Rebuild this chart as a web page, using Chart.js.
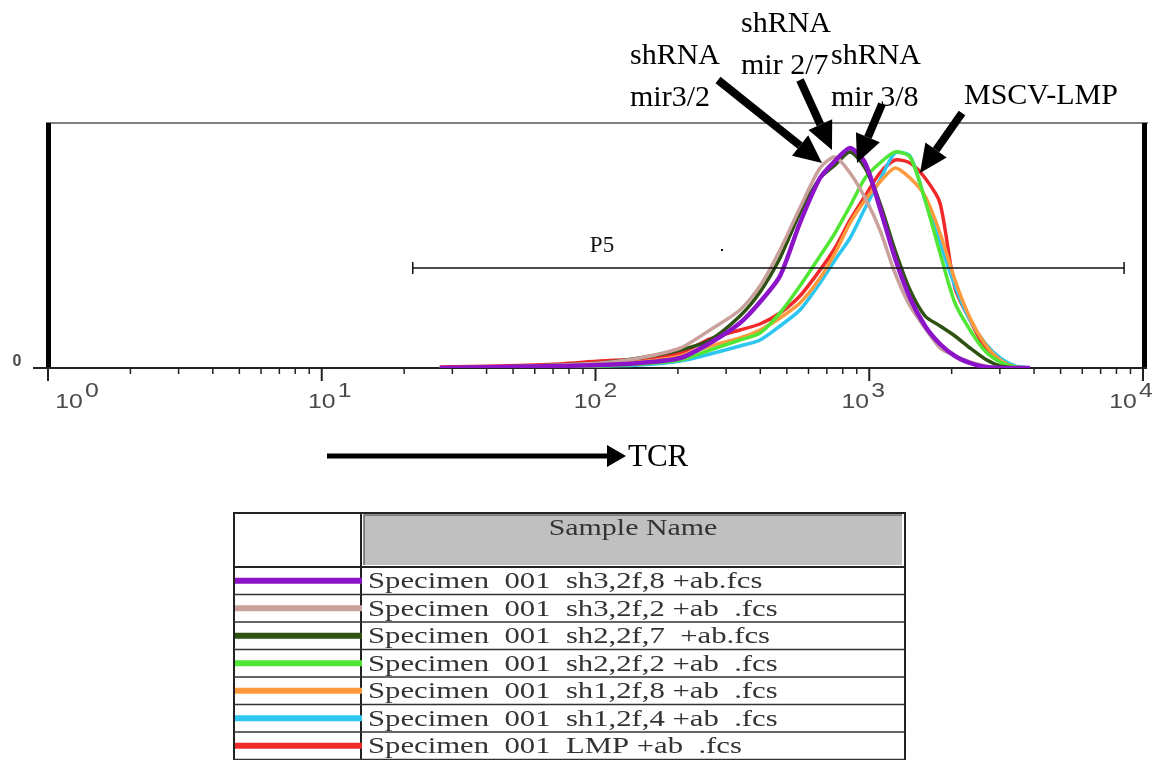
<!DOCTYPE html>
<html>
<head>
<meta charset="utf-8">
<script src="https://cdn.jsdelivr.net/npm/chart.js@4.4.1/dist/chart.umd.min.js"></script>
<style>
  html, body { margin: 0; padding: 0; background: #fff; }
  canvas { display: block; }
</style>
</head>
<body>
<canvas id="histo" width="1152" height="760"></canvas>
<script>
// TCR fluorescence (log scale) and event counts per sample
const intensity = [27, 45, 74, 104, 145, 204, 262, 337, 399, 472, 558, 661, 750, 851, 966, 1094, 1242, 1409, 1599, 1813, 2056, 2334, 2649, 3006, 3407, 3865];

const sh3f8 = [0, 1, 2, 3, 5, 10, 25, 45, 66, 92, 145, 190, 207, 220, 205, 160, 110, 70, 42, 24, 12, 5, 1, 0, 0, 0];
const sh3f2 = [0, 1, 3, 5, 10, 20, 38, 58, 82, 118, 160, 200, 211, 195, 170, 138, 95, 62, 40, 20, 12, 6, 2, 0, 0, 0];
const sh2f7 = [0, 1, 3, 5, 10, 18, 28, 52, 76, 110, 155, 190, 203, 216, 200, 165, 118, 78, 52, 42, 32, 20, 9, 2, 0, 0];
const sh2f2 = [0, 0, 1, 2, 4, 8, 18, 28, 35, 55, 82, 112, 135, 162, 190, 205, 216, 211, 168, 115, 65, 38, 17, 6, 1, 0];
const sh1f8 = [0, 1, 2, 4, 6, 12, 22, 30, 38, 50, 65, 90, 115, 145, 168, 186, 200, 190, 172, 135, 88, 50, 24, 8, 1, 0];
const sh1f4 = [0, 0, 1, 2, 3, 7, 14, 22, 28, 42, 58, 85, 108, 130, 160, 188, 215, 212, 168, 125, 82, 48, 25, 10, 2, 0];
const lmp   = [1, 2, 4, 7, 9, 15, 29, 38, 44, 55, 72, 98, 120, 148, 172, 195, 208, 205, 190, 165, 80, 48, 20, 8, 1, 0];

const sampleNames = [
  'Specimen  001  sh3,2f,8 +ab.fcs',
  'Specimen  001  sh3,2f,2 +ab  .fcs',
  'Specimen  001  sh2,2f,7  +ab.fcs',
  'Specimen  001  sh2,2f,2 +ab  .fcs',
  'Specimen  001  sh1,2f,8 +ab  .fcs',
  'Specimen  001  sh1,2f,4 +ab  .fcs',
  'Specimen  001  LMP +ab  .fcs'
];
const lineColors = ['#8c14c8', '#c9a09c', '#2e5212', '#52e634', '#ff9a3c', '#2cc6f0', '#f02a2a'];
const decades = [1, 10, 100, 1000, 10000];
const gateP5 = [21.5, 8530];

const allCounts = [sh3f8, sh3f2, sh2f7, sh2f2, sh1f8, sh1f4, lmp];

function arrow(ctx, x1, y1, x2, y2, w, headLen, headW) {
  const a = Math.atan2(y2 - y1, x2 - x1);
  const bx = x2 - headLen * Math.cos(a), by = y2 - headLen * Math.sin(a);
  ctx.lineWidth = w;
  ctx.beginPath(); ctx.moveTo(x1, y1); ctx.lineTo(bx, by); ctx.stroke();
  ctx.beginPath();
  ctx.moveTo(x2, y2);
  ctx.lineTo(bx + headW / 2 * Math.sin(a), by - headW / 2 * Math.cos(a));
  ctx.lineTo(bx - headW / 2 * Math.sin(a), by + headW / 2 * Math.cos(a));
  ctx.closePath(); ctx.fill();
}

function stretchText(ctx, txt, x, y, sx, align) {
  ctx.save();
  ctx.translate(x, y); ctx.scale(sx, 1);
  ctx.textAlign = align || 'left';
  ctx.fillText(txt, 0, 0);
  ctx.restore();
}

const facsFrame = {
  id: 'facsFrame',
  beforeDatasetsDraw(chart) {
    const ctx = chart.ctx, x = chart.scales.x, y = chart.scales.y;
    const a = chart.chartArea;
    const base = y.getPixelForValue(0);
    ctx.save();
    // top border
    ctx.strokeStyle = '#555'; ctx.lineWidth = 1.5;
    ctx.beginPath(); ctx.moveTo(a.left - 2, a.top); ctx.lineTo(a.right + 5, a.top); ctx.stroke();
    // thick side bars
    ctx.fillStyle = '#000';
    ctx.fillRect(a.left - 2, a.top, 5, base - a.top);
    ctx.fillRect(a.right - 1, a.top, 5, base - a.top);
    // x axis line
    ctx.strokeStyle = '#222'; ctx.lineWidth = 2;
    ctx.beginPath(); ctx.moveTo(a.left - 15, base); ctx.lineTo(a.right + 4, base); ctx.stroke();
    // ticks
    decades.forEach((d, i) => {
      const px = x.getPixelForValue(d);
      ctx.lineWidth = 2;
      ctx.beginPath(); ctx.moveTo(px, base); ctx.lineTo(px, base + 13); ctx.stroke();
      if (i < decades.length - 1) {
        for (let m = 2; m <= 9; m++) {
          const mx = x.getPixelForValue(d * m);
          ctx.lineWidth = 1.5;
          ctx.beginPath(); ctx.moveTo(mx, base); ctx.lineTo(mx, base + 6); ctx.stroke();
        }
      }
    });
    // tick labels 10^n
    const shift = [29, 8, 0, -6, -12];
    const sx = 1.18;
    ctx.fillStyle = '#4a4a4a';
    ctx.font = '21px "Liberation Sans", Arial, sans-serif';
    ctx.textBaseline = 'alphabetic';
    decades.forEach((d, i) => {
      const px = x.getPixelForValue(d) + shift[i];
      const exp = String(Math.round(Math.log10(d)));
      const w1 = ctx.measureText('10').width * sx;
      const w2 = ctx.measureText(exp).width * sx;
      const left = px - (w1 + w2 + 2) / 2;
      stretchText(ctx, '10', left, base + 40, sx);
      stretchText(ctx, exp, left + w1 + 2, base + 29, sx);
    });
    // y zero label
    ctx.font = 'bold 16px "Liberation Sans", Arial, sans-serif';
    ctx.textAlign = 'center'; ctx.textBaseline = 'middle';
    ctx.fillText('0', 17, base - 6);
    ctx.restore();
  },
  afterDatasetsDraw(chart) {
    const ctx = chart.ctx, x = chart.scales.x;
    ctx.save();
    // P5 gate
    const g1 = x.getPixelForValue(gateP5[0]), g2 = x.getPixelForValue(gateP5[1]);
    const gy = 268;
    ctx.strokeStyle = '#111'; ctx.lineWidth = 1.5;
    ctx.beginPath();
    ctx.moveTo(g1, gy); ctx.lineTo(g2, gy);
    ctx.moveTo(g1, gy - 6); ctx.lineTo(g1, gy + 6);
    ctx.moveTo(g2, gy - 6); ctx.lineTo(g2, gy + 6);
    ctx.stroke();
    ctx.fillStyle = '#111';
    ctx.font = '23px "Liberation Serif", "Times New Roman", serif';
    ctx.textAlign = 'center'; ctx.textBaseline = 'alphabetic';
    ctx.fillText('P5', 602, 252);
    ctx.fillRect(721, 249, 2, 2);

    // annotations
    ctx.fillStyle = '#000'; ctx.strokeStyle = '#000';
    ctx.textAlign = 'left';
    ctx.font = '30px "Liberation Serif", "Times New Roman", serif';
    ctx.fillText('shRNA', 630, 64);
    ctx.fillText('mir3/2', 630, 106);
    ctx.fillText('shRNA', 741, 32);
    ctx.fillText('mir 2/7', 741, 74);
    ctx.fillText('shRNA', 831, 64);
    ctx.fillText('mir 3/8', 831, 106);
    ctx.fillText('MSCV-LMP', 964, 104);
    ctx.lineCap = 'butt';
    arrow(ctx, 718, 80, 822, 163, 8, 28, 26);
    arrow(ctx, 800, 80, 832, 150, 8, 28, 26);
    arrow(ctx, 882, 104, 857, 163, 8, 28, 26);
    arrow(ctx, 962, 113, 920, 173, 8, 28, 26);

    // TCR axis arrow
    arrow(ctx, 327, 456, 626, 456, 5, 19, 22);
    ctx.font = '31px "Liberation Serif", "Times New Roman", serif';
    ctx.fillText('TCR', 628, 466);

    // legend table
    const tL = 234, tC = 361, tR = 905, tT = 513, hB = 567, rowH = 27.5;
    ctx.fillStyle = '#c0c0c0';
    ctx.fillRect(tC + 3, tT + 2, tR - tC - 6, hB - tT - 4);
    ctx.strokeStyle = '#666'; ctx.lineWidth = 1.5;
    ctx.beginPath();
    ctx.moveTo(tC + 3, hB - 2); ctx.lineTo(tC + 3, tT + 2); ctx.lineTo(tR - 3, tT + 2);
    ctx.stroke();
    ctx.strokeStyle = '#222'; ctx.lineWidth = 2;
    ctx.beginPath();
    ctx.moveTo(tL, 760); ctx.lineTo(tL, tT); ctx.lineTo(tR, tT); ctx.lineTo(tR, 760);
    ctx.moveTo(tC, tT); ctx.lineTo(tC, 760);
    ctx.moveTo(tL, hB); ctx.lineTo(tR, hB);
    ctx.stroke();
    ctx.lineWidth = 1.5; ctx.strokeStyle = '#333';
    for (let i = 1; i <= sampleNames.length; i++) {
      const ly = hB + i * rowH;
      ctx.beginPath(); ctx.moveTo(tL, ly); ctx.lineTo(tR, ly); ctx.stroke();
    }
    ctx.fillStyle = '#333';
    ctx.font = '22.5px "Liberation Serif", "Times New Roman", serif';
    stretchText(ctx, 'Sample Name', 633, 535, 1.33, 'center');
    chart.data.datasets.forEach((ds, i) => {
      const cy = hB + i * rowH + rowH / 2;
      ctx.fillStyle = ds.borderColor;
      ctx.fillRect(tL + 1, cy - 3, tC - tL, 6);
      ctx.fillStyle = '#333';
      stretchText(ctx, ds.label, 368, hB + i * rowH + 21, 1.365);
    });
    ctx.restore();
  }
};

new Chart(document.getElementById('histo'), {
  type: 'line',
  data: {
    datasets: allCounts.map((counts, i) => ({
      label: sampleNames[i],
      data: intensity.map((v, j) => ({x: v, y: counts[j]})),
      borderColor: lineColors[i],
      backgroundColor: lineColors[i],
      borderWidth: i === 0 ? 4.5 : 3.5,
      pointRadius: 0,
      tension: 0.25,
      fill: false
    }))
  },
  options: {
    responsive: false,
    animation: false,
    devicePixelRatio: 1,
    layout: { padding: { left: 48, right: 9, top: 123, bottom: 392 } },
    scales: {
      x: { type: 'logarithmic', min: 1, max: 10000, display: false },
      y: { min: 0, max: 245, display: false }
    },
    plugins: { legend: { display: false }, tooltip: { enabled: false } }
  },
  plugins: [facsFrame]
});
</script>
</body>
</html>
